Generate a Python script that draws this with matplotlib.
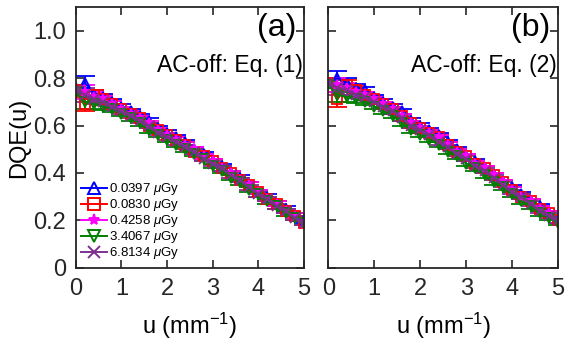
import matplotlib
matplotlib.use("Agg")
import matplotlib.pyplot as plt

plt.rcParams["font.family"] = ["Liberation Sans", "DejaVu Sans"]
plt.rcParams["mathtext.fontset"] = "custom"
plt.rcParams["mathtext.it"] = "Liberation Sans:italic"
plt.rcParams["mathtext.rm"] = "Liberation Sans"

u = [0.0, 0.2, 0.4, 0.6, 0.8, 1.0, 1.2, 1.4, 1.6, 1.8, 2.0, 2.2, 2.4,
     2.6, 2.8, 3.0, 3.2, 3.4, 3.6, 3.8, 4.0, 4.2, 4.4, 4.6, 4.8, 5.0]

doses = ["0.0397", "0.0830", "0.4258", "3.4067", "6.8134"]

# panel (a): AC-off, Eq. (1)
dqe_a_0397 = [.76, .78, .73, .72, .70, .68, .66, .64, .62, .59, .57, .55, .53,
              .50, .48, .45, .43, .40, .38, .35, .32, .30, .27, .25, .22, .20]
dqe_a_0830 = [.75, .69, .73, .71, .69, .67, .65, .63, .60, .58, .56, .54, .52,
              .49, .47, .45, .42, .40, .37, .35, .32, .29, .27, .24, .22, .19]
dqe_a_4258 = [.75, .74, .72, .71, .69, .67, .65, .63, .61, .58, .56, .54, .52,
              .50, .47, .45, .42, .40, .37, .35, .32, .29, .27, .24, .22, .19]
dqe_a_34067 = [.74, .70, .69, .68, .67, .65, .63, .61, .58, .56, .54, .52, .50,
               .48, .46, .43, .41, .38, .36, .33, .31, .28, .26, .23, .21, .19]
dqe_a_68134 = [.75, .73, .71, .70, .68, .66, .64, .62, .60, .57, .55, .53, .51,
               .49, .46, .44, .42, .39, .37, .34, .31, .29, .26, .24, .21, .19]

# panel (b): AC-off, Eq. (2)
dqe_b_0397 = [.78, .80, .78, .76, .75, .72, .70, .68, .66, .62, .60, .58, .56,
              .53, .50, .47, .45, .42, .39, .36, .34, .31, .28, .26, .23, .20]
dqe_b_0830 = [.78, .71, .77, .75, .73, .71, .69, .67, .64, .61, .59, .57, .55,
              .52, .49, .47, .44, .42, .39, .36, .33, .30, .28, .25, .23, .20]
dqe_b_4258 = [.78, .77, .76, .74, .73, .71, .69, .67, .64, .61, .59, .57, .55,
              .52, .49, .47, .44, .42, .39, .36, .33, .30, .28, .25, .23, .20]
dqe_b_34067 = [.77, .73, .72, .71, .70, .68, .66, .64, .61, .58, .56, .54, .52,
               .49, .47, .44, .42, .39, .36, .34, .31, .28, .26, .23, .21, .19]
dqe_b_68134 = [.78, .76, .75, .73, .72, .70, .68, .66, .63, .60, .58, .56, .53,
               .51, .48, .46, .43, .41, .38, .35, .32, .30, .27, .24, .22, .20]

err = [.012, .03, .02, .015, .012, .01, .01, .01, .01, .01, .01, .01, .01,
       .01, .01, .01, .01, .01, .01, .01, .01, .01, .01, .01, .01, .01]

colors = ["#0000ff", "#ff0000", "#ff00ff", "#008000", "#7e2f8e"]
markers = ["^", "s", "*", "v", "x"]

fig = plt.figure(figsize=(5.66, 3.47), dpi=100)
ax1 = fig.add_axes([0.134, 0.228, 0.403, 0.752])
ax2 = fig.add_axes([0.580, 0.228, 0.406, 0.752])

panels = [
    (ax1, [dqe_a_0397, dqe_a_0830, dqe_a_4258, dqe_a_34067, dqe_a_68134], "(a)", "AC-off: Eq. (1)"),
    (ax2, [dqe_b_0397, dqe_b_0830, dqe_b_4258, dqe_b_34067, dqe_b_68134], "(b)", "AC-off: Eq. (2)"),
]

handles = []
for ax, series, tag, eq in panels:
    handles = []
    for y, c, m, d in zip(series, colors, markers, doses):
        ax.errorbar(u, y, yerr=err, color=c, marker=m, mfc="none" if m in "^sv" else c,
                    ms=7, mew=1.3, lw=1.4, elinewidth=1.4, capsize=7)
        # legend entry: line + marker only
        h, = ax.plot([], [], color=c, marker=m, mfc="none" if m in "^sv" else c,
                     ms=8, mew=1.4, lw=1.4, label=d + r" $\mu$Gy")
        handles.append(h)
    ax.set_xlim(0, 5)
    ax.set_ylim(0, 1.1)
    ax.set_xticks([0, 1, 2, 3, 4, 5])
    ax.set_yticks([0, 0.2, 0.4, 0.6, 0.8, 1.0])
    ax.tick_params(direction="in", top=True, right=True, labelsize=17,
                   length=6, width=1.2, colors="#262626", pad=7)
    for s in ax.spines.values():
        s.set_color("#262626")
        s.set_linewidth(1.3)
    ax.set_xlabel("u (mm$^{-1}$)", fontsize=17, labelpad=8)
    ax.text(0.965, 0.975, tag, transform=ax.transAxes, ha="right", va="top", fontsize=23)
    ax.text(0.995, 0.82, eq, transform=ax.transAxes, ha="right", va="top", fontsize=16.5)

ax1.set_yticklabels(["0", "0.2", "0.4", "0.6", "0.8", "1.0"])
ax1.set_ylabel("DQE(u)", fontsize=17, labelpad=2)
ax2.set_yticklabels([])

ax1.legend(handles=handles, loc="lower left", bbox_to_anchor=(0.01, 0.015), frameon=False,
           fontsize=9.5, handlelength=2.0, handletextpad=0.15, labelspacing=0.0,
           borderpad=0.2, borderaxespad=0.0)

fig.savefig("out.png", dpi=100)
